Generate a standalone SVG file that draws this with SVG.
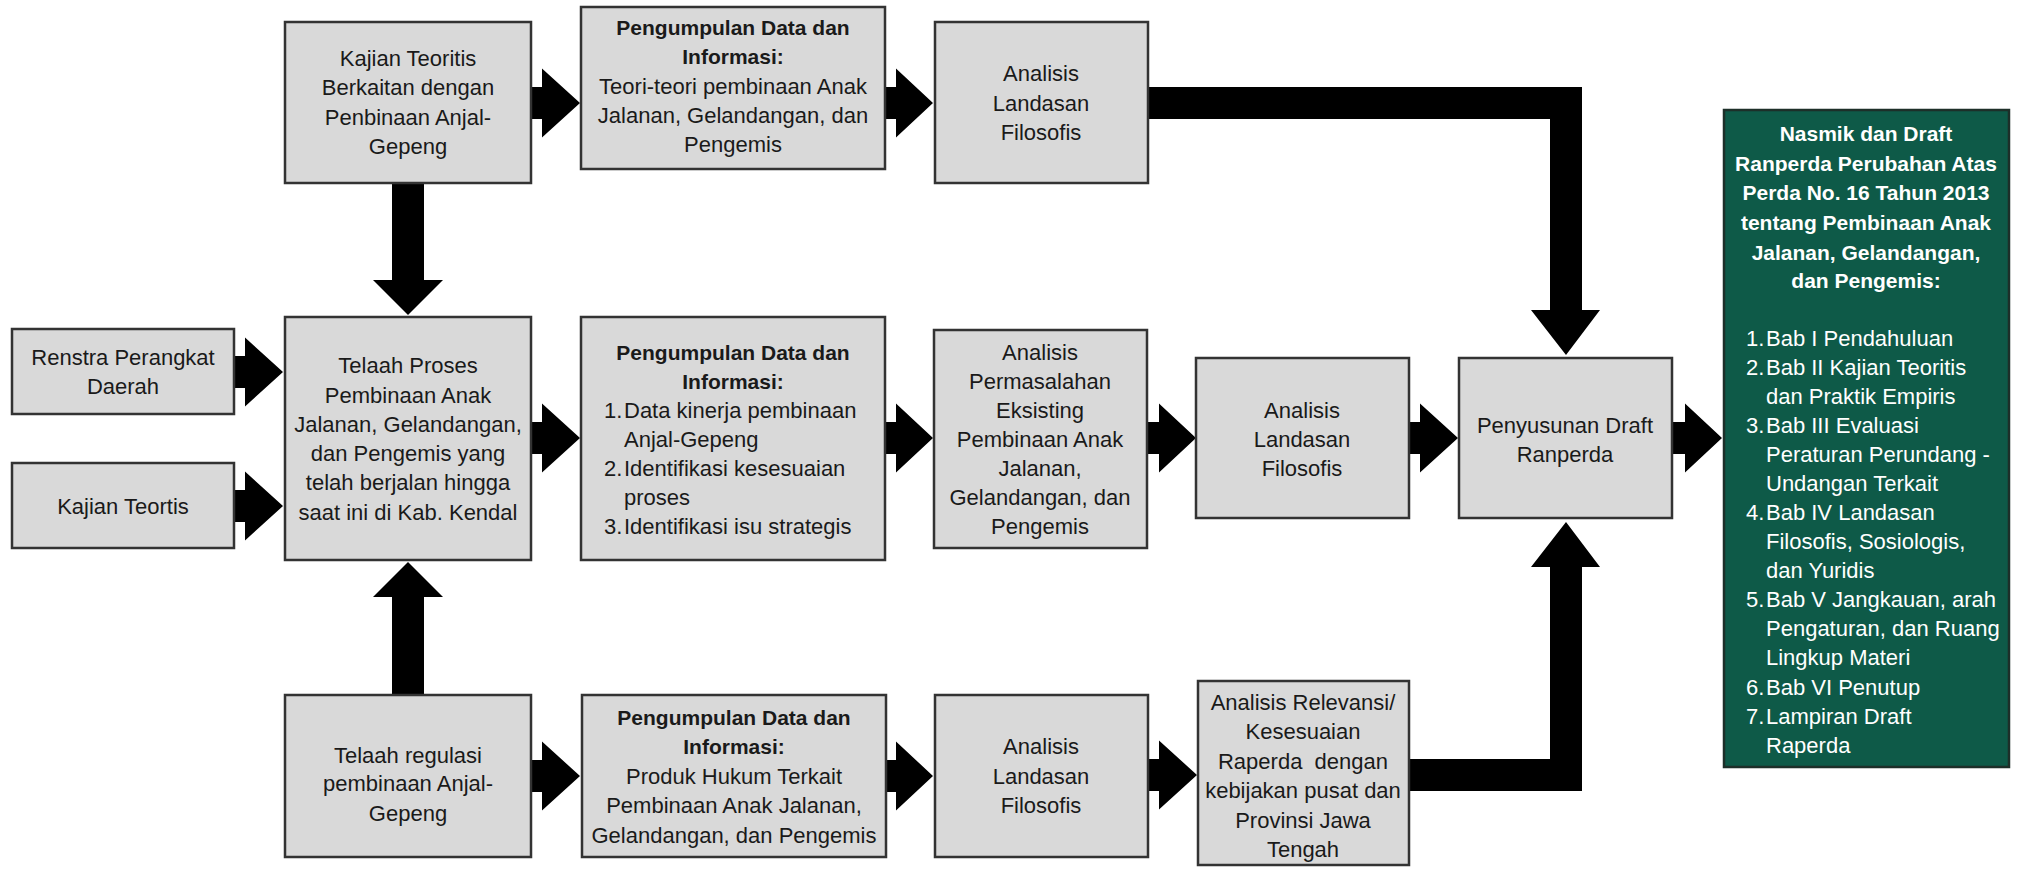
<svg xmlns="http://www.w3.org/2000/svg" width="2019" height="870" viewBox="0 0 2019 870">
<style>
.box{fill:#d9d9d9;stroke:#333;stroke-width:2.5}
.gbox{fill:#0e5a48;stroke:#1d2f29;stroke-width:2.5}
text{font-family:"Liberation Sans",Arial,sans-serif;font-size:22px;fill:#1a1a1a}
.c{text-anchor:middle}
.b{font-weight:bold;font-size:21px}
.w{fill:#ffffff}
.arr{fill:#000}
</style>
<rect width="2019" height="870" fill="#ffffff"/>
<g id="connectors">
<polygon class="arr" points="531,87 542,87 542,68.5 580,103 542,137.5 542,119 531,119"/>
<polygon class="arr" points="885,87 896,87 896,68.5 933,103 896,137.5 896,119 885,119"/>
<polygon class="arr" points="234,356 245,356 245,337.5 283,372 245,406.5 245,388 234,388"/>
<polygon class="arr" points="234,490 245,490 245,471.5 283,506 245,540.5 245,522 234,522"/>
<polygon class="arr" points="531,422 542,422 542,403.5 580,438 542,472.5 542,454 531,454"/>
<polygon class="arr" points="885,422 896,422 896,403.5 933,438 896,472.5 896,454 885,454"/>
<polygon class="arr" points="1147,422 1159,422 1159,403.5 1196,438 1159,472.5 1159,454 1147,454"/>
<polygon class="arr" points="1409,422 1420,422 1420,403.5 1458,438 1420,472.5 1420,454 1409,454"/>
<polygon class="arr" points="1672,422 1685,422 1685,403.5 1722,438 1685,472.5 1685,454 1672,454"/>
<polygon class="arr" points="531,760 542,760 542,741.5 580,776 542,810.5 542,792 531,792"/>
<polygon class="arr" points="886,760 896,760 896,741.5 933,776 896,810.5 896,792 886,792"/>
<polygon class="arr" points="1148,759 1159,759 1159,740.5 1197,775 1159,809.5 1159,791 1148,791"/>
<polygon class="arr" points="392,183 424,183 424,280 443,280 408,315 373,280 392,280"/>
<polygon class="arr" points="392,695 424,695 424,597 443,597 408,562 373,597 392,597"/>
<polygon class="arr" points="1148,87 1582,87 1582,310 1600,310 1566,355 1531,310 1550,310 1550,119 1148,119"/>
<polygon class="arr" points="1409,759 1550,759 1550,567 1531,567 1566,522 1600,567 1582,567 1582,791 1409,791"/>
</g>
<g id="kajian-teoritis">
<rect class="box" x="285" y="22" width="246" height="161"/>
<text class="c" x="408" y="66">Kajian Teoritis</text>
<text class="c" x="408" y="95">Berkaitan dengan</text>
<text class="c" x="408" y="125">Penbinaan Anjal-</text>
<text class="c" x="408" y="154">Gepeng</text>
</g>
<g id="pengumpulan-top">
<rect class="box" x="581" y="7" width="304" height="162"/>
<text class="c b" x="733" y="35">Pengumpulan Data dan</text>
<text class="c b" x="733" y="64">Informasi:</text>
<text class="c" x="733" y="94">Teori-teori pembinaan Anak</text>
<text class="c" x="733" y="123">Jalanan, Gelandangan, dan</text>
<text class="c" x="733" y="152">Pengemis</text>
</g>
<g id="analisis-landasan-top">
<rect class="box" x="935" y="22" width="213" height="161"/>
<text class="c" x="1041" y="81">Analisis</text>
<text class="c" x="1041" y="111">Landasan</text>
<text class="c" x="1041" y="140">Filosofis</text>
</g>
<g id="renstra">
<rect class="box" x="12" y="329" width="222" height="85"/>
<text class="c" x="123" y="365">Renstra Perangkat</text>
<text class="c" x="123" y="394">Daerah</text>
</g>
<g id="kajian-teortis">
<rect class="box" x="12" y="463" width="222" height="85"/>
<text class="c" x="123" y="514">Kajian Teortis</text>
</g>
<g id="telaah-proses">
<rect class="box" x="285" y="317" width="246" height="243"/>
<text class="c" x="408" y="373">Telaah Proses</text>
<text class="c" x="408" y="403">Pembinaan Anak</text>
<text class="c" x="408" y="432">Jalanan, Gelandangan,</text>
<text class="c" x="408" y="461">dan Pengemis yang</text>
<text class="c" x="408" y="490">telah berjalan hingga</text>
<text class="c" x="408" y="520">saat ini di Kab. Kendal</text>
</g>
<g id="pengumpulan-mid">
<rect class="box" x="581" y="317" width="304" height="243"/>
<text class="c b" x="733" y="360">Pengumpulan Data dan</text>
<text class="c b" x="733" y="389">Informasi:</text>
<text x="604" y="418">1.</text><text x="624" y="418">Data kinerja pembinaan</text>
<text x="624" y="447">Anjal-Gepeng</text>
<text x="604" y="476">2.</text><text x="624" y="476">Identifikasi kesesuaian</text>
<text x="624" y="505">proses</text>
<text x="604" y="534">3.</text><text x="624" y="534">Identifikasi isu strategis</text>
</g>
<g id="analisis-permasalahan">
<rect class="box" x="934" y="330" width="213" height="218"/>
<text class="c" x="1040" y="360">Analisis</text>
<text class="c" x="1040" y="389">Permasalahan</text>
<text class="c" x="1040" y="418">Eksisting</text>
<text class="c" x="1040" y="447">Pembinaan Anak</text>
<text class="c" x="1040" y="476">Jalanan,</text>
<text class="c" x="1040" y="505">Gelandangan, dan</text>
<text class="c" x="1040" y="534">Pengemis</text>
</g>
<g id="analisis-landasan-mid">
<rect class="box" x="1196" y="358" width="213" height="160"/>
<text class="c" x="1302" y="418">Analisis</text>
<text class="c" x="1302" y="447">Landasan</text>
<text class="c" x="1302" y="476">Filosofis</text>
</g>
<g id="penyusunan">
<rect class="box" x="1459" y="358" width="213" height="160"/>
<text class="c" x="1565" y="433">Penyusunan Draft</text>
<text class="c" x="1565" y="462">Ranperda</text>
</g>
<g id="nasmik">
<rect class="gbox" x="1724" y="110" width="285" height="657"/>
<text class="c b w" x="1866" y="141">Nasmik dan Draft</text>
<text class="c b w" x="1866" y="171">Ranperda Perubahan Atas</text>
<text class="c b w" x="1866" y="200">Perda No. 16 Tahun 2013</text>
<text class="c b w" x="1866" y="230">tentang Pembinaan Anak</text>
<text class="c b w" x="1866" y="260">Jalanan, Gelandangan,</text>
<text class="c b w" x="1866" y="288">dan Pengemis:</text>
<text class="w" x="1746" y="346">1.</text><text class="w" x="1766" y="346">Bab I Pendahuluan</text>
<text class="w" x="1746" y="375">2.</text><text class="w" x="1766" y="375">Bab II Kajian Teoritis</text>
<text class="w" x="1766" y="404">dan Praktik Empiris</text>
<text class="w" x="1746" y="433">3.</text><text class="w" x="1766" y="433">Bab III Evaluasi</text>
<text class="w" x="1766" y="462">Peraturan Perundang -</text>
<text class="w" x="1766" y="491">Undangan Terkait</text>
<text class="w" x="1746" y="520">4.</text><text class="w" x="1766" y="520">Bab IV Landasan</text>
<text class="w" x="1766" y="549">Filosofis, Sosiologis,</text>
<text class="w" x="1766" y="578">dan Yuridis</text>
<text class="w" x="1746" y="607">5.</text><text class="w" x="1766" y="607">Bab V Jangkauan, arah</text>
<text class="w" x="1766" y="636">Pengaturan, dan Ruang</text>
<text class="w" x="1766" y="665">Lingkup Materi</text>
<text class="w" x="1746" y="695">6.</text><text class="w" x="1766" y="695">Bab VI Penutup</text>
<text class="w" x="1746" y="724">7.</text><text class="w" x="1766" y="724">Lampiran Draft</text>
<text class="w" x="1766" y="753">Raperda</text>
</g>
<g id="telaah-regulasi">
<rect class="box" x="285" y="695" width="246" height="162"/>
<text class="c" x="408" y="763">Telaah regulasi</text>
<text class="c" x="408" y="791">pembinaan Anjal-</text>
<text class="c" x="408" y="821">Gepeng</text>
</g>
<g id="pengumpulan-bottom">
<rect class="box" x="582" y="695" width="304" height="162"/>
<text class="c b" x="734" y="725">Pengumpulan Data dan</text>
<text class="c b" x="734" y="754">Informasi:</text>
<text class="c" x="734" y="784">Produk Hukum Terkait</text>
<text class="c" x="734" y="813">Pembinaan Anak Jalanan,</text>
<text class="c" x="734" y="843">Gelandangan, dan Pengemis</text>
</g>
<g id="analisis-landasan-bottom">
<rect class="box" x="935" y="695" width="213" height="162"/>
<text class="c" x="1041" y="754">Analisis</text>
<text class="c" x="1041" y="784">Landasan</text>
<text class="c" x="1041" y="813">Filosofis</text>
</g>
<g id="analisis-relevansi">
<rect class="box" x="1198" y="681" width="211" height="184"/>
<text class="c" x="1303" y="710">Analisis Relevansi/</text>
<text class="c" x="1303" y="739">Kesesuaian</text>
<text class="c" x="1303" y="769" xml:space="preserve">Raperda  dengan</text>
<text class="c" x="1303" y="798">kebijakan pusat dan</text>
<text class="c" x="1303" y="828">Provinsi Jawa</text>
<text class="c" x="1303" y="857">Tengah</text>
</g>
</svg>
